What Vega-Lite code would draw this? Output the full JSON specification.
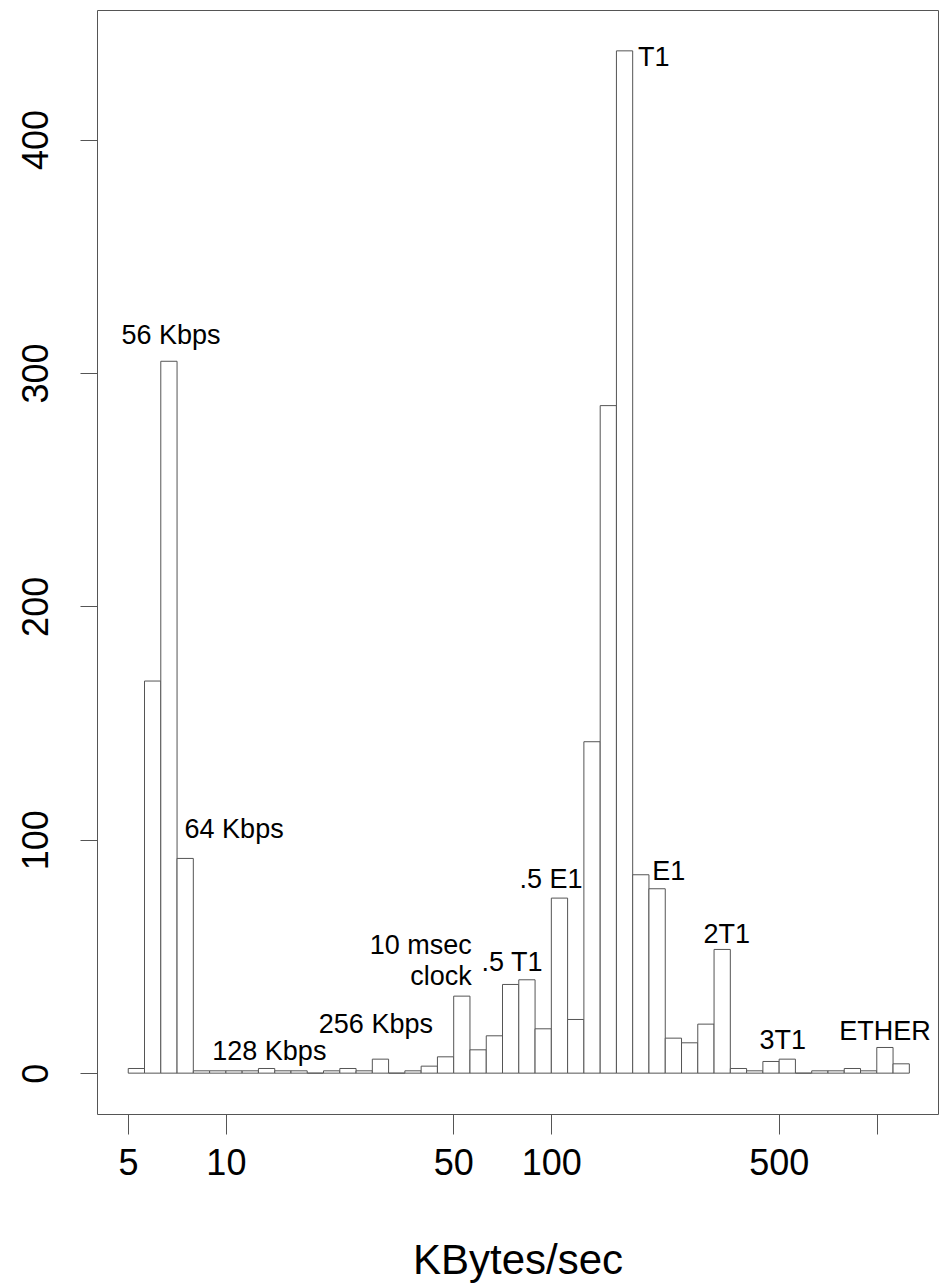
{
  "$schema": "https://vega.github.io/schema/vega-lite/v6.json",
  "width": 841,
  "height": 1104,
  "autosize": "none",
  "padding": {"left": 97, "top": 10, "right": 3, "bottom": 170},
  "background": "white",
  "datasets": {
    "bins": [
      {"lo": 5.012, "hi": 5.623, "count": 2},
      {"lo": 5.623, "hi": 6.310, "count": 168},
      {"lo": 6.310, "hi": 7.079, "count": 305},
      {"lo": 7.079, "hi": 7.943, "count": 92},
      {"lo": 7.943, "hi": 8.913, "count": 1},
      {"lo": 8.913, "hi": 10.0, "count": 1},
      {"lo": 10.0, "hi": 11.22, "count": 1},
      {"lo": 11.22, "hi": 12.59, "count": 1},
      {"lo": 12.59, "hi": 14.13, "count": 2},
      {"lo": 14.13, "hi": 15.85, "count": 1},
      {"lo": 15.85, "hi": 17.78, "count": 1},
      {"lo": 17.78, "hi": 19.95, "count": 0},
      {"lo": 19.95, "hi": 22.39, "count": 1},
      {"lo": 22.39, "hi": 25.12, "count": 2},
      {"lo": 25.12, "hi": 28.18, "count": 1},
      {"lo": 28.18, "hi": 31.62, "count": 6},
      {"lo": 31.62, "hi": 35.48, "count": 0},
      {"lo": 35.48, "hi": 39.81, "count": 1},
      {"lo": 39.81, "hi": 44.67, "count": 3},
      {"lo": 44.67, "hi": 50.12, "count": 7},
      {"lo": 50.12, "hi": 56.23, "count": 33},
      {"lo": 56.23, "hi": 63.10, "count": 10},
      {"lo": 63.10, "hi": 70.79, "count": 16},
      {"lo": 70.79, "hi": 79.43, "count": 38},
      {"lo": 79.43, "hi": 89.13, "count": 40},
      {"lo": 89.13, "hi": 100.0, "count": 19},
      {"lo": 100.0, "hi": 112.2, "count": 75},
      {"lo": 112.2, "hi": 125.9, "count": 23},
      {"lo": 125.9, "hi": 141.3, "count": 142},
      {"lo": 141.3, "hi": 158.5, "count": 286},
      {"lo": 158.5, "hi": 177.8, "count": 438},
      {"lo": 177.8, "hi": 199.5, "count": 85},
      {"lo": 199.5, "hi": 223.9, "count": 79},
      {"lo": 223.9, "hi": 251.2, "count": 15},
      {"lo": 251.2, "hi": 281.8, "count": 13},
      {"lo": 281.8, "hi": 316.2, "count": 21},
      {"lo": 316.2, "hi": 354.8, "count": 53},
      {"lo": 354.8, "hi": 398.1, "count": 2},
      {"lo": 398.1, "hi": 446.7, "count": 1},
      {"lo": 446.7, "hi": 501.2, "count": 5},
      {"lo": 501.2, "hi": 562.3, "count": 6},
      {"lo": 562.3, "hi": 631.0, "count": 0},
      {"lo": 631.0, "hi": 707.9, "count": 1},
      {"lo": 707.9, "hi": 794.3, "count": 1},
      {"lo": 794.3, "hi": 891.3, "count": 2},
      {"lo": 891.3, "hi": 1000.0, "count": 1},
      {"lo": 1000.0, "hi": 1122.0, "count": 11},
      {"lo": 1122.0, "hi": 1259.0, "count": 4}
    ],
    "labels": [
      {"label": "56 Kbps", "x": 6.78, "y": 316},
      {"label": "64 Kbps", "x": 10.6, "y": 104},
      {"label": "128 Kbps", "x": 13.6, "y": 9},
      {"label": "256 Kbps", "x": 28.9, "y": 20.6},
      {"label": "10 msec", "x": 39.7, "y": 54.5},
      {"label": "clock", "x": 45.8, "y": 41},
      {"label": ".5 T1", "x": 75.7, "y": 47.2},
      {"label": ".5 E1", "x": 99.8, "y": 82.8},
      {"label": "T1", "x": 206.5, "y": 435},
      {"label": "E1", "x": 229.6, "y": 86.3},
      {"label": "2T1", "x": 346, "y": 59},
      {"label": "3T1", "x": 514, "y": 13.7},
      {"label": "ETHER", "x": 1059, "y": 17.6}
    ]
  },
  "layer": [
    {
      "data": {"name": "bins"},
      "mark": {"type": "rect", "fill": "white", "stroke": "#555", "strokeWidth": 1},
      "encoding": {
        "x": {
          "field": "lo",
          "type": "quantitative",
          "scale": {"type": "log", "domain": [4.018, 1542], "nice": false, "zero": false},
          "axis": {
            "values": [5, 10, 50, 100, 500, 1000],
            "format": "d",
            "labelExpr": "datum.value == 1000 ? '' : datum.label",
            "grid": false,
            "domain": false,
            "ticks": true,
            "tickSize": 20,
            "tickColor": "#555",
            "labelFont": "Liberation Sans",
            "labelFontSize": 36,
            "labelColor": "#000",
            "labelPadding": 12,
            "labelFlush": false,
            "labelOverlap": false,
            "title": "KBytes/sec",
            "titleFont": "Liberation Sans",
            "titleFontSize": 42,
            "titleFontWeight": "normal",
            "titleColor": "#000",
            "titleBaseline": "alphabetic",
            "titleY": 159
          }
        },
        "x2": {"field": "hi"},
        "y": {
          "field": "count",
          "type": "quantitative",
          "scale": {"domain": [-17.5, 455.5], "nice": false, "zero": false},
          "axis": {
            "values": [0, 100, 200, 300, 400],
            "grid": false,
            "domain": false,
            "tickSize": 17,
            "tickColor": "#555",
            "labelAngle": -90,
            "labelAlign": "center",
            "labelBaseline": "alphabetic",
            "labelPadding": 33,
            "labelFont": "Liberation Sans",
            "labelFontSize": 36,
            "labelColor": "#000",
            "labelFlush": false,
            "labelOverlap": false,
            "title": null
          }
        },
        "y2": {"datum": 0}
      }
    },
    {
      "data": {"name": "labels"},
      "mark": {"type": "text", "font": "Liberation Sans", "fontSize": 27, "align": "center", "baseline": "middle", "color": "#000"},
      "encoding": {
        "x": {"field": "x", "type": "quantitative"},
        "y": {"field": "y", "type": "quantitative"},
        "text": {"field": "label"}
      }
    }
  ],
  "config": {
    "view": {"stroke": "#555", "strokeWidth": 1}
  }
}
